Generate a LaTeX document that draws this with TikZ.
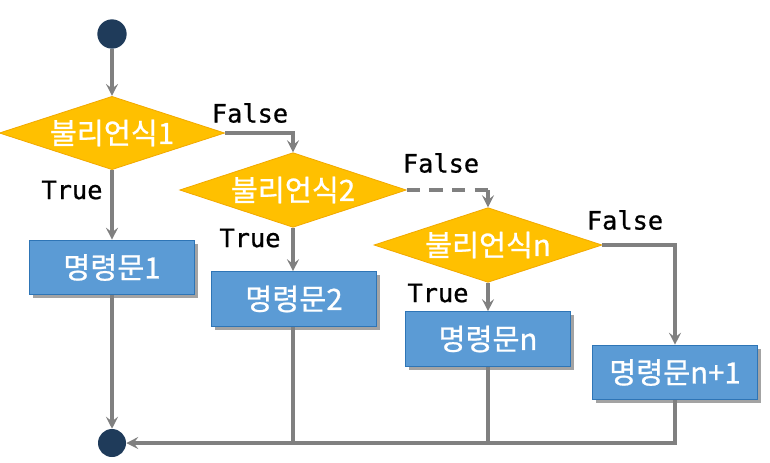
\documentclass[tikz,border=0pt]{standalone}
\usepackage{fontspec}
\newfontfamily\kfont[FakeBold=0.8]{Noto Sans CJK KR}
\newfontfamily\mfont[FakeBold=0.8]{DejaVu Sans Mono}
\usetikzlibrary{shapes.geometric,arrows.meta,shadows}
\definecolor{dfill}{HTML}{FFC000}
\definecolor{ddraw}{HTML}{F2A900}
\definecolor{bfill}{HTML}{5B9BD5}
\definecolor{bdraw}{HTML}{2E75B6}
\definecolor{navy}{HTML}{1F3B5A}
\definecolor{lgray}{HTML}{808080}
\tikzset{
  dec/.style={diamond, shape aspect=3.1, inner sep=0pt, fill=dfill, draw=ddraw, line width=0.6pt,
    text=white, font=\kfont\fontsize{22}{24}\selectfont},
  stmt/.style={rectangle, inner sep=0pt, fill=bfill, draw=bdraw, line width=0.7pt,
    minimum width=124pt, minimum height=41pt, text=white, font=\kfont\fontsize{22}{24}\selectfont,
    drop shadow={shadow xshift=2.5pt, shadow yshift=-2.5pt, fill=black!45, opacity=0.8}},
  term/.style={circle, fill=navy, inner sep=0pt, minimum size=22pt},
  ln/.style={draw=lgray, line width=2.3pt},
  arr/.style={ln, -{Stealth[length=9pt,width=9pt,inset=3.5pt]}},
  lab/.style={font=\mfont\fontsize{19}{22}\selectfont, text=black, inner sep=0pt},
}
\begin{document}
\begin{tikzpicture}[x=0.75pt,y=-0.75pt]
\useasboundingbox (0,0) rectangle (770,462);
\node[term] (start) at (112,34) {};
\node[dec, minimum width=169pt, minimum height=55pt] (d1) at (112,133) {불리언식1};
\node[dec, minimum width=170pt, minimum height=56pt] (d2) at (293,190) {불리언식2};
\node[dec, minimum width=171pt, minimum height=56pt] (dn) at (488,245) {불리언식n};
\node[stmt] (b1) at (112,267.5) {명령문1};
\node[stmt] (b2) at (294,299) {명령문2};
\node[stmt] (bn) at (488,339) {명령문n};
\node[stmt] (bn1) at (675,372.5) {명령문n+1};
\node[term, minimum size=21pt] (end) at (112,443) {};
\node[lab] (f1) at (250,113) {False};
\node[lab] (f2) at (441,163) {False};
\node[lab] (f3) at (625,220) {False};
\node[lab] (t1) at (72,190) {True};
\node[lab] (t2) at (250,238) {True};
\node[lab] (t3) at (438,293) {True};
\coordinate (c2) at (dn.north |- d2.east);
\draw[arr] (start) -- (d1.north);
\draw[arr] (d1.east) -| (d2.north);
\draw[ln, dash pattern=on 10pt off 7pt] (d2.east) -- (c2);
\draw[arr] (c2) -- (dn.north);
\draw[arr] (dn.east) -| (bn1.north);
\draw[arr] (d1.south) -- (b1.north);
\draw[arr] (d2.south) -- (b2.north -| d2.south);
\draw[arr] (dn.south) -- (bn.north);
\draw[arr] (b1.south) -- (end.north);
\draw[arr] (bn1.south) |- (end.east);
\draw[ln] (b2.south -| d2.south) -- (d2.south |- end.east);
\draw[ln] (bn.south) -- (bn.south |- end.east);
\end{tikzpicture}
\end{document}
